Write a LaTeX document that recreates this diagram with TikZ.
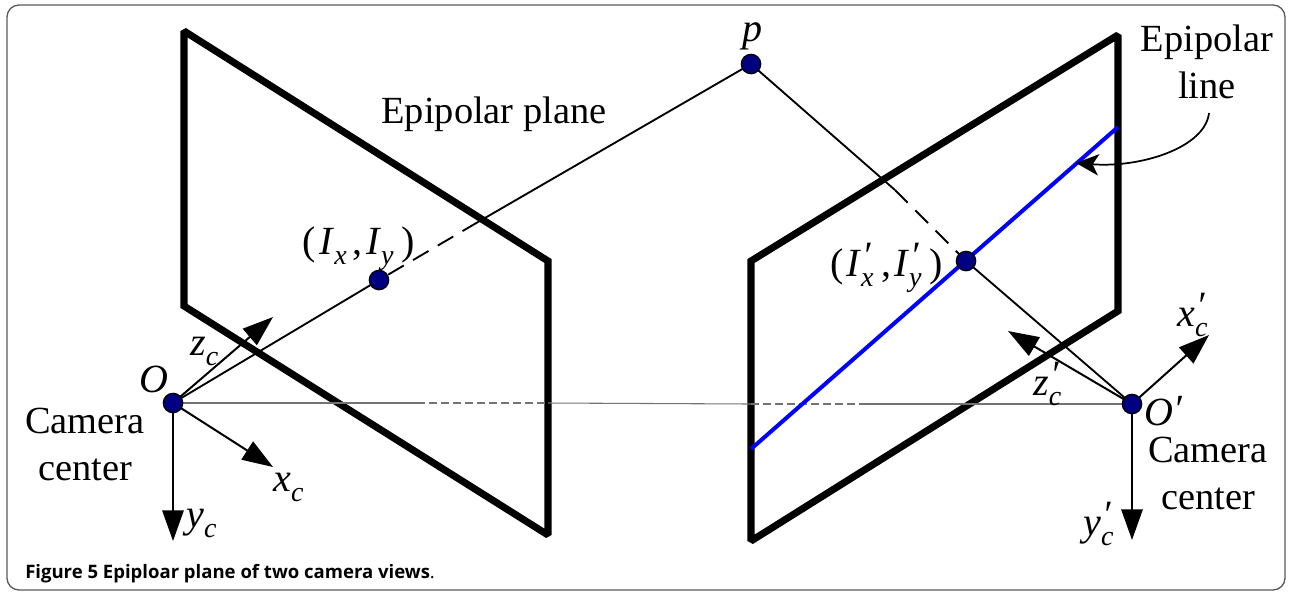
\documentclass[tikz,border=0pt]{standalone}
\usepackage{xcolor}
\usepackage{fontspec}
\setmainfont{Liberation Serif}
\newfontfamily\capfont{Open Sans}
\usetikzlibrary{arrows.meta,positioning,calc}
\definecolor{dotblue}{RGB}{0,0,128}
\definecolor{frameline}{RGB}{90,90,90}
\newcommand{\subname}[3][]{\textit{#2}\raisebox{-8pt}{\fontsize{21}{21}\selectfont\rlap{\raisebox{14pt}{\kern1pt\fontsize{29}{29}\selectfont\textit{#1}}}\textit{#3}}}

\begin{document}
\begin{tikzpicture}[x=0.75pt, y=-0.75pt,
    plane/.style={line width=5.3pt, line join=miter, miter limit=1.5},
    ray/.style={line width=1.4pt},
    baseline/.style={line width=0.8pt, draw=black!55},
    axis/.style={line width=1.5pt, -{Triangle[length=23pt, width=16pt]}},
    point/.style={circle, draw, line width=1pt, fill=dotblue, minimum size=14.5pt, inner sep=0pt},
    lbl/.style={font=\fontsize{28.8}{35.2}\selectfont, align=center, inner sep=0pt},
    sym/.style={font=\fontsize{30}{36}\selectfont, inner sep=0pt}
]
\useasboundingbox (0,0) rectangle (1291,594);
\draw[frameline, line width=1pt, rounded corners=9pt] (7,5) rectangle (1285,590);

% Image planes
\draw[plane] (184,31) -- (548,261) -- (548,535) -- (184,306) -- cycle;
\draw[plane] (1118,35) -- (751,261) -- (751,541) -- (1118,311) -- cycle;

% Points
\coordinate (O) at (173,403);
\coordinate (Op) at (1132,404);
\coordinate (I) at (379,280);
\coordinate (Ip) at (966,261);
\coordinate (p) at (751,64);
\coordinate (leftcut) at (478,222);
\coordinate (rightcut) at (895,190);
\coordinate (basea) at (417,403);
\coordinate (baseb) at (548,403);
\coordinate (basec) at (751,404);
\coordinate (based) at (860,404);
\coordinate (bluea) at (751,449);
\coordinate (blueb) at (1118,127);

% Baseline
\draw[baseline] (O) -- (basea);
\draw[baseline, dashed, dash pattern=on 6pt off 3pt] (basea) -- (baseb);
\draw[baseline] (baseb) -- (basec);
\draw[baseline, dashed, dash pattern=on 6pt off 3pt] (basec) -- (based);
\draw[baseline] (based) -- (Op);

% Epipolar line
\draw[blue, line width=3pt] (bluea) -- (blueb);

% Rays
\draw[ray] (O) -- (I);
\draw[ray, dashed, dash pattern=on 13.5pt off 8pt] (leftcut) -- (I);
\draw[ray] (leftcut) -- (p);
\draw[ray] (p) -- (rightcut);
\draw[ray, dashed, dash pattern=on 13.5pt off 8pt] (rightcut) -- (Ip);
\draw[ray] (Ip) -- (Op);

% Axes
\coordinate (zc) at (273,317);
\coordinate (xc) at (273,467);
\coordinate (yc) at (173,541);
\coordinate (xpc) at (1209,335);
\coordinate (zpc) at (1008,331);
\coordinate (ypc) at (1132,540);
\draw[axis] (O) -- (zc);
\draw[axis] (O) -- (xc);
\draw[axis] (O) -- (yc);
\draw[axis] (Op) -- (xpc);
\draw[axis] (Op) -- (zpc);
\draw[axis] (Op) -- (ypc);

% Dots
\node[point] (Odot) at (O) {};
\node[point] (Opdot) at (Op) {};
\node[point] (Idot) at (I) {};
\node[point] (Ipdot) at (Ip) {};
\node[point] (pdot) at (p) {};

% Pointer
\coordinate (linetail) at (1209,113);
\coordinate (linehead) at (1076,163);
\draw[line width=1.3pt, -{Stealth[length=17pt, width=16pt, inset=4.5pt]}] (linetail) .. controls (1205,148) and (1140,168) .. (linehead);

% Labels
\node[lbl] (eplane) at (494,114) {Epipolar plane};
\node[lbl] (eline) at (1207,62) {Epipolar\\line};
\node[lbl] (camleft) at (85,444) {Camera\\center};
\node[lbl] (camright) at (1208,473) {Camera\\center};
\node[sym, anchor=base] (pname) at (752,41) {\textit{p}};
\node[sym, anchor=base] (Oname) at (154,392) {\textit{O}};
\node[sym, anchor=base west] (Opname) at (1144,425) {\textit{O}\raisebox{2pt}{\textit{′}}};
\node[sym, anchor=base west] (Iname) at (302,254) {(\kern3pt\subname{I}{x}\kern4pt,\kern3pt\subname{I}{y}\kern6pt)};
\node[sym, anchor=base west] (Ipname) at (830,276) {(\kern2pt\subname[′]{I}{x}\kern6pt,\kern2pt\subname[′]{I}{y}\kern6pt)};
\node[sym, anchor=base west] (zname) at (190,355) {\subname{z}{c}};
\node[sym, anchor=base west] (xname) at (273,491) {\subname{x}{c}};
\node[sym, anchor=base west] (yname) at (186,527) {\subname{y}{c}};
\node[sym, anchor=base west] (xpname) at (1177,326) {\subname[′]{x}{c}};
\node[sym, anchor=base west] (zpname) at (1033,395) {\subname[′]{z}{c}};
\node[sym, anchor=base west] (ypname) at (1083,535) {\subname[′]{y}{c}};

% Caption
\node[anchor=base west, inner sep=0pt, font=\capfont\fontsize{13.9}{16}\selectfont] (caption) at (25,578) {\textbf{Figure 5 Epiploar plane of two camera views}.};
\end{tikzpicture}
\end{document}
